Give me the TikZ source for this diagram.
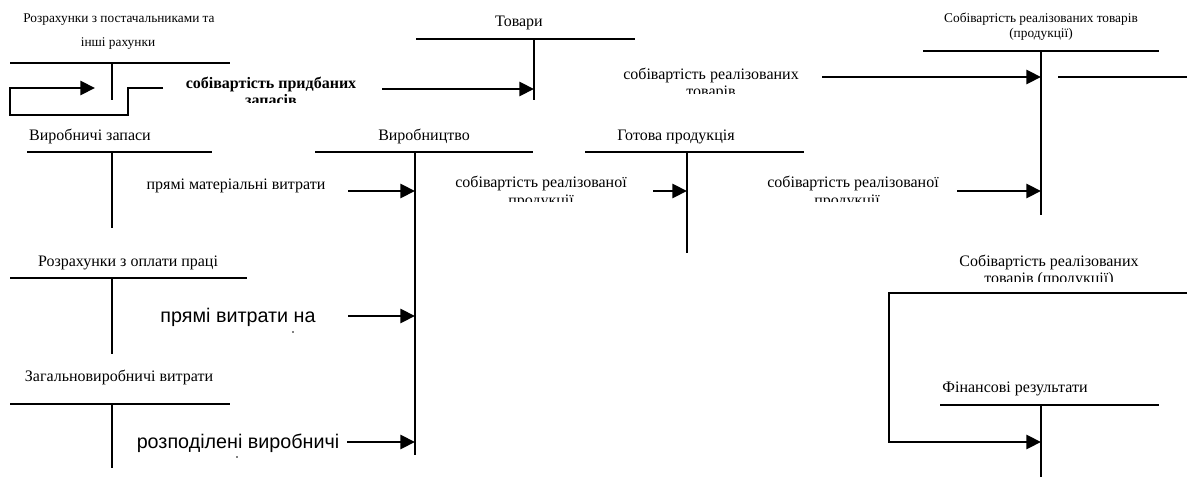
\documentclass[tikz,border=0pt]{standalone}
\usepackage{fontspec}
\setmainfont{Liberation Serif}
\newfontfamily\arialf{Liberation Sans}
\usetikzlibrary{arrows.meta}
\begin{document}
\begin{tikzpicture}[x=0.75pt,y=-0.75pt,
  tacc/.style={line width=1.5pt},
  thinl/.style={line width=1.4pt},
  flow/.style={line width=2.2pt,-{Triangle[length=11pt,width=10.5pt]}},
  lbl/.style={inner sep=0pt,font=\fontsize{12}{12.8}\selectfont,align=center},
  slbl/.style={inner sep=0pt,font=\fontsize{10}{11.5}\selectfont,align=center},
  blbl/.style={inner sep=0pt,font=\fontsize{12}{12.8}\selectfont\bfseries,align=center},
  albl/.style={inner sep=0pt,font=\arialf\fontsize{14.8}{16}\selectfont,align=center}]
\useasboundingbox (0,0) rectangle (1187,477);

% ---- T accounts ----
% Розрахунки з постачальниками
\node[slbl] (t1a) at (119,20) {Розрахунки з постачальниками та};
\node[slbl] (t1b) at (118,44) {інші рахунки};
\draw[tacc] (10,63) -- (230,63) (112,63) -- (112,100);
% Товари
\node[lbl] (t2) at (519,23) {Товари};
\draw[tacc] (416,39) -- (635,39) (534,39) -- (534,100);
% Собівартість (top right)
\node[slbl] (t3) at (1041,27) {Собівартість реалізованих товарів\\(продукції)};
\draw[tacc] (923,51) -- (1159,51) (1041,51) -- (1041,215);
% Виробничі запаси
\node[lbl] (t4) at (90,136) {Виробничі запаси};
\draw[tacc] (27,152) -- (212,152) (112,152) -- (112,228);
% Виробництво
\node[lbl] (t5) at (424,136) {Виробництво};
\draw[tacc] (315,152) -- (533,152) (415,152) -- (415,455);
% Готова продукція
\node[lbl] (t6) at (676,137) {Готова продукція};
\draw[tacc] (585,152) -- (804,152) (687,152) -- (687,253);
% Розрахунки з оплати праці
\node[lbl] (t7) at (128,263) {Розрахунки з оплати праці};
\draw[tacc] (10,278) -- (247,278) (112,278) -- (112,354);
% Загальновиробничі витрати
\node[lbl] (t8) at (119,377) {Загальновиробничі витрати};
\draw[tacc] (10,404) -- (230,404) (112,404) -- (112,468);
% Фінансові результати
\node[lbl] (t9) at (1015,389) {Фінансові результати};
\draw[tacc] (940,405) -- (1159,405) (1041,405) -- (1041,477);

% ---- flow labels (second lines clipped) ----
\begin{scope}
  \clip (150,60) rectangle (400,103);
  \node[blbl,anchor=base] (f1) at (271,89) {собівартість придбаних};
  \node[blbl,anchor=base] (f1b) at (271,106) {запасів};
\end{scope}
\begin{scope}
  \clip (600,55) rectangle (820,94);
  \node[lbl,anchor=base] (f2) at (711,80) {собівартість реалізованих};
  \node[lbl,anchor=base] (f2b) at (711,97) {товарів};
\end{scope}
\node[lbl] (f3) at (236,186) {прямі матеріальні витрати};
\begin{scope}
  \clip (440,160) rectangle (640,202);
  \node[lbl,anchor=base] (f4) at (541,188) {собівартість реалізованої};
  \node[lbl,anchor=base] (f4b) at (541,205) {продукції};
\end{scope}
\begin{scope}
  \clip (740,160) rectangle (960,202);
  \node[lbl,anchor=base] (f5) at (853,188) {собівартість реалізованої};
  \node[lbl,anchor=base] (f5b) at (847,205) {продукції};
\end{scope}
\node[albl] (f6) at (238,317) {прямі витрати на};
\fill (293,332) circle (0.9);
\node[albl] (f7) at (238,443) {розподілені виробничі};
\fill (237,457) circle (0.9);
\begin{scope}
  \clip (940,245) rectangle (1160,281);
  \node[lbl,anchor=base] (f8) at (1049,266) {Собівартість реалізованих};
  \node[lbl,anchor=base] (f8b) at (1049,283) {товарів (продукції)};
\end{scope}

% ---- connection points ----
\coordinate (a1s) at (43,88);   \coordinate (a1e) at (95,88);
\coordinate (a2s) at (382,89);  \coordinate (a2e) at (534,89);
\coordinate (a3s) at (822,77);  \coordinate (a3e) at (1041,77);
\coordinate (r3s) at (1058,77); \coordinate (r3e) at (1187,77);
\coordinate (a4s) at (348,191); \coordinate (a4e) at (415,191);
\coordinate (a5s) at (653,191); \coordinate (a5e) at (687,191);
\coordinate (a6s) at (957,191); \coordinate (a6e) at (1041,191);
\coordinate (a7s) at (348,316); \coordinate (a7e) at (415,316);
\coordinate (a8s) at (347,442); \coordinate (a8e) at (415,442);
\coordinate (a9s) at (974,442); \coordinate (a9e) at (1041,442);
\coordinate (l1) at (163,88);
\coordinate (rr) at (1187,293);

% ---- connectors ----
\draw[thinl] (l1) -- (128,88) -- (128,115) -- (10,115) -- (10,88) -- (a1s);
\draw[flow] (a1s) -- (a1e);
\draw[flow] (a2s) -- (a2e);
\draw[flow] (a3s) -- (a3e);
\draw[tacc] (r3s) -- (r3e);
\draw[flow] (a4s) -- (a4e);
\draw[flow] (a5s) -- (a5e);
\draw[flow] (a6s) -- (a6e);
\draw[flow] (a7s) -- (a7e);
\draw[flow] (a8s) -- (a8e);
\draw[thinl] (rr) -- (889,293) -- (889,442) -- (a9s);
\draw[flow] (a9s) -- (a9e);
\end{tikzpicture}
\end{document}
